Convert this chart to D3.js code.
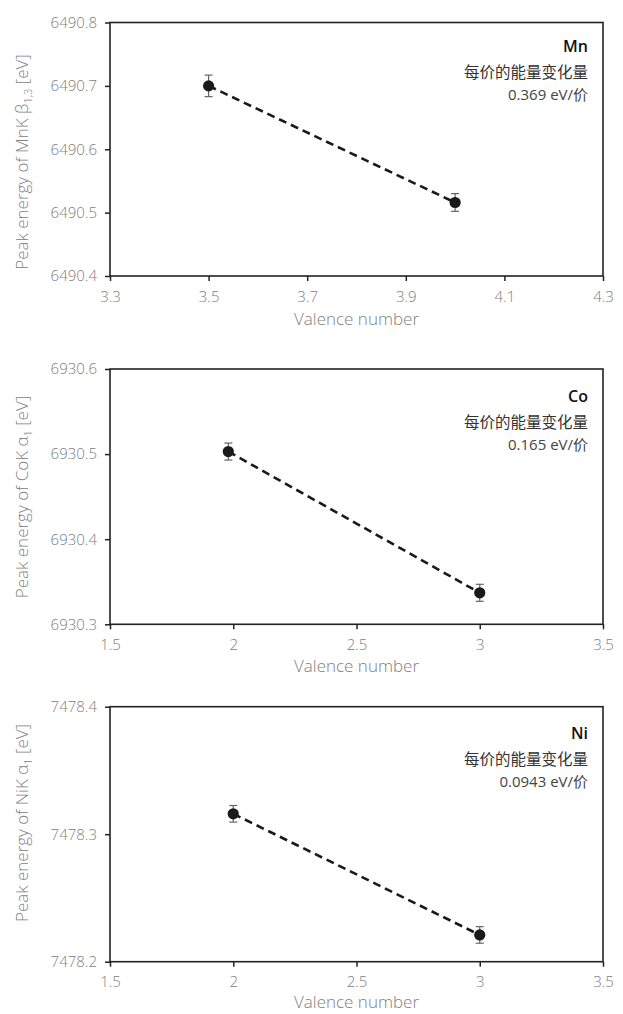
<!DOCTYPE html>
<html>
<head>
<meta charset="utf-8">
<script src="https://cdn.jsdelivr.net/npm/d3@7"></script>
<style>
  html, body { margin: 0; padding: 0; background: #fff; }
  svg { display: block; }
</style>
</head>
<body>
<svg id="chart" width="623" height="1014"></svg>
<script>
// ---------- data ----------
const elements = ["Mn", "Co", "Ni"];

const valenceMn = [3.5, 4.0];
const energyMn  = [6490.700, 6490.516];
const errorMn   = [0.017, 0.014];

const valenceCo = [1.98, 3.0];
const energyCo  = [6930.503, 6930.337];
const errorCo   = [0.010, 0.010];

const valenceNi = [2.0, 3.0];
const energyNi  = [7478.316, 7478.221];
const errorNi   = [0.0065, 0.0065];

const xTicksMn = [3.3, 3.5, 3.7, 3.9, 4.1, 4.3];
const yTicksMn = [6490.4, 6490.5, 6490.6, 6490.7, 6490.8];
const xTicksCo = [1.5, 2, 2.5, 3, 3.5];
const yTicksCo = [6930.3, 6930.4, 6930.5, 6930.6];
const xTicksNi = [1.5, 2, 2.5, 3, 3.5];
const yTicksNi = [7478.2, 7478.3, 7478.4];

const lineLabels = ["MnK", "CoK", "NiK"];
const lineGreek  = ["β", "α", "α"];
const lineSubs   = ["1,3", "1", "1"];
const slopeTexts = ["0.369 eV/价", "0.165 eV/价", "0.0943 eV/价"];
const perValenceText = "每价的能量变化量";
const xAxisTitle = "Valence number";

// ---------- layout ----------
const panels = [
  { x: valenceMn, y: energyMn, e: errorMn, xt: xTicksMn, yt: yTicksMn,
    top: 22.5, bottom: 276, labelCy: 162, annoOff: 0, xlabOff: 49 },
  { x: valenceCo, y: energyCo, e: errorCo, xt: xTicksCo, yt: yTicksCo,
    top: 369, bottom: 624.3, labelCy: 497, annoOff: 3, xlabOff: 48 },
  { x: valenceNi, y: energyNi, e: errorNi, xt: xTicksNi, yt: yTicksNi,
    top: 706.7, bottom: 961.7, labelCy: 823, annoOff: 3, xlabOff: 46 }
];
const left = 110, right = 603;
const latin = "'Open Sans', 'Noto Sans', sans-serif";
const cjk = "'Open Sans', 'Noto Sans CJK SC', sans-serif";
const grayText = "#808080";

const svg = d3.select("#chart");

panels.forEach((p, i) => {
  const xs = d3.scaleLinear().domain(d3.extent(p.xt)).range([left, right]);
  const ys = d3.scaleLinear().domain(d3.extent(p.yt)).range([p.bottom, p.top]);
  const g = svg.append("g");

  // x axis
  const xa = g.append("g").attr("transform", `translate(0,${p.bottom})`)
    .call(d3.axisBottom(xs).tickValues(p.xt).tickSize(5).tickPadding(10)
      .tickFormat(d => String(d)));
  // y axis
  const ya = g.append("g").attr("transform", `translate(${left},0)`)
    .call(d3.axisLeft(ys).tickValues(p.yt).tickSize(5).tickPadding(8)
      .tickFormat(d => d.toFixed(1)));
  [xa, ya].forEach(a => {
    a.select(".domain").remove();
    a.selectAll("line").attr("stroke", "#222").attr("stroke-width", 1.5);
    a.selectAll("text").attr("fill", grayText)
      .style("font-family", latin).style("font-size", "15px").style("font-weight", 300);
  });

  // frame
  g.append("rect")
    .attr("x", left).attr("y", p.top)
    .attr("width", right - left).attr("height", p.bottom - p.top)
    .attr("fill", "none").attr("stroke", "#222").attr("stroke-width", 1.6);

  const pts = p.x.map((v, k) => ({ x: v, y: p.y[k], e: p.e[k] }));

  // dashed fit line
  g.append("path").datum(pts)
    .attr("d", d3.line().x(d => xs(d.x)).y(d => ys(d.y)))
    .attr("fill", "none").attr("stroke", "#1a1a1a")
    .attr("stroke-width", 2.6).attr("stroke-dasharray", "8,5");

  // error bars
  const eb = g.selectAll(".eb").data(pts).enter().append("g");
  eb.append("line")
    .attr("x1", d => xs(d.x)).attr("x2", d => xs(d.x))
    .attr("y1", d => ys(d.y + d.e)).attr("y2", d => ys(d.y - d.e))
    .attr("stroke", "#666").attr("stroke-width", 1.2);
  eb.append("line")
    .attr("x1", d => xs(d.x) - 4).attr("x2", d => xs(d.x) + 4)
    .attr("y1", d => ys(d.y + d.e)).attr("y2", d => ys(d.y + d.e))
    .attr("stroke", "#666").attr("stroke-width", 1.2);
  eb.append("line")
    .attr("x1", d => xs(d.x) - 4).attr("x2", d => xs(d.x) + 4)
    .attr("y1", d => ys(d.y - d.e)).attr("y2", d => ys(d.y - d.e))
    .attr("stroke", "#666").attr("stroke-width", 1.2);

  // points
  g.selectAll(".pt").data(pts).enter().append("circle")
    .attr("cx", d => xs(d.x)).attr("cy", d => ys(d.y)).attr("r", 5.6)
    .attr("fill", "#1a1a1a");

  // annotations
  const ax = 588;
  const ay = p.top + p.annoOff;
  g.append("text").attr("x", ax).attr("y", ay + 29.5).attr("text-anchor", "end")
    .style("font-family", latin).style("font-size", "16px").style("font-weight", 600)
    .attr("fill", "#111").text(elements[i]);
  g.append("text").attr("x", ax).attr("y", ay + 55.5).attr("text-anchor", "end")
    .style("font-family", "'Noto Sans CJK SC', sans-serif").style("font-size", "15.5px")
    .attr("fill", "#333").text(perValenceText);
  g.append("text").attr("x", ax).attr("y", ay + 77.5).attr("text-anchor", "end")
    .style("font-family", cjk).style("font-size", "15px")
    .attr("fill", "#444").text(slopeTexts[i]);

  // x axis title
  g.append("text").attr("x", (left + right) / 2).attr("y", p.bottom + p.xlabOff)
    .attr("text-anchor", "middle")
    .style("font-family", latin).style("font-size", "17px").style("font-weight", 300)
    .attr("fill", grayText).text(xAxisTitle);

  // y axis title
  const yt = g.append("text")
    .attr("transform", `translate(27.5,${p.labelCy}) rotate(-90)`)
    .attr("text-anchor", "middle")
    .style("font-family", latin).style("font-size", "17px").style("font-weight", 300)
    .attr("fill", grayText);
  yt.append("tspan").text(`Peak energy of ${lineLabels[i]} ${lineGreek[i]}`);
  yt.append("tspan").attr("dy", 4).style("font-size", "11px").text(lineSubs[i]);
  yt.append("tspan").attr("dy", -4).text(" [eV]");
});
</script>
</body>
</html>
